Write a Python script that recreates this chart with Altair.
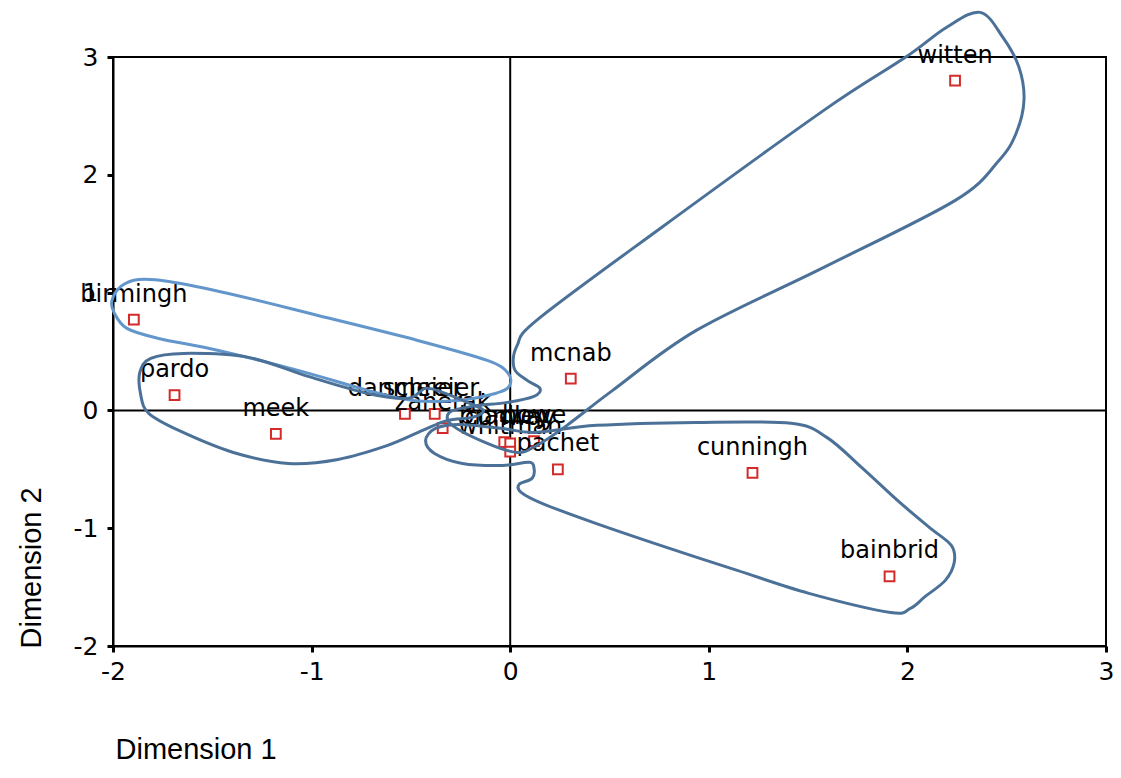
import altair as alt
import pandas as pd

# ---- point data (Dimension 1, Dimension 2) ----
names = ["birmingh", "pardo", "meek", "danmeier", "schreier,", "zanerak",
         "bradley", "conway", "howe", "whitman", "pachet", "mcnab",
         "cunningh", "bainbrid", "witten"]
dim1 = [-1.895, -1.69, -1.18, -0.53, -0.38, -0.34,
        -0.03, 0.0, 0.12, 0.0, 0.24, 0.305,
        1.22, 1.91, 2.24]
dim2 = [0.77, 0.13, -0.20, -0.03, -0.03, -0.15,
        -0.27, -0.28, -0.26, -0.35, -0.50, 0.27,
        -0.53, -1.41, 2.80]

# ---- hand-drawn cluster outlines (data units) ----
hull_a_x = [-2.005, -1.960, -1.870, -1.719, -1.419, -0.968, -0.466, -0.115, -0.010,
            -0.005, -0.075, -0.266, -0.491, -0.717, -1.068, -1.469, -1.770, -1.930, -1.995]
hull_a_y = [0.934, 1.053, 1.112, 1.095, 0.993, 0.806, 0.594, 0.424, 0.314,
            0.204, 0.144, 0.085, 0.085, 0.170, 0.340, 0.509, 0.611, 0.696, 0.832]

hull_b_x = [-1.865, -1.810, -1.644, -1.318, -1.018, -0.717, -0.516, -0.426, -0.341, -0.216,
            -0.135, -0.190, -0.316, -0.441, -0.617, -0.867, -1.118, -1.394, -1.669, -1.820, -1.860]
hull_b_y = [0.323, 0.441, 0.484, 0.450, 0.289, 0.144, 0.102, 0.187, 0.153, 0.068,
            0.0, -0.059, -0.085, -0.170, -0.297, -0.416, -0.450, -0.357, -0.170, -0.025, 0.127]

hull_c_x = [2.366, 2.481, 2.562, 2.587, 2.547, 2.461, 2.241, 1.579, 0.937, 0.516,
            0.286, 0.135, 0.035, -0.115, -0.291, -0.306, -0.190, -0.015, 0.120, 0.150,
            0.085, 0.020, 0.035, 0.145, 0.762, 1.579, 1.990, 2.196]
hull_c_y = [3.379, 3.166, 2.912, 2.632, 2.351, 2.122, 1.783, 1.214, 0.679, 0.170,
            -0.127, -0.297, -0.357, -0.280, -0.127, -0.017, 0.034, 0.068, 0.119, 0.187,
            0.255, 0.357, 0.552, 0.781, 1.553, 2.547, 2.997, 3.251]

hull_d_x = [0.125, 0.436, 0.937, 1.414, 1.594, 1.769, 1.950, 2.110, 2.221, 2.236,
            2.191, 2.090, 2.015, 1.915, 1.504, 1.143, 0.787, 0.431, 0.160, 0.055,
            0.045, 0.110, 0.120, 0.095, -0.040, -0.241, -0.381, -0.426, -0.376, -0.256, -0.040]
hull_d_y = [-0.187, -0.127, -0.102, -0.110, -0.229, -0.484, -0.764, -0.993, -1.146, -1.290,
            -1.443, -1.579, -1.681, -1.715, -1.553, -1.358, -1.163, -0.959, -0.789, -0.696,
            -0.628, -0.577, -0.492, -0.441, -0.467, -0.450, -0.365, -0.255, -0.153, -0.119, -0.153]

hull_names = ["A", "B", "C", "D"]
hull_colors = ["#6396cb", "#4c7198", "#4c7198", "#4c7198"]

tick_values = [-2, -1, 0, 1, 2, 3]

# ---- tables ----
pts = pd.DataFrame({"name": names, "d1": dim1, "d2": dim2})
rows = []
for hn, hx, hy in zip(hull_names, [hull_a_x, hull_b_x, hull_c_x, hull_d_x],
                      [hull_a_y, hull_b_y, hull_c_y, hull_d_y]):
    for i, (a, b) in enumerate(zip(hx, hy)):
        rows.append({"hull": hn, "i": i, "d1": a, "d2": b})
hulls = pd.DataFrame(rows)
zero = pd.DataFrame({"v": [0]})

FONT = "DejaVu Sans"
TFONT = "Liberation Sans"
xs = alt.Scale(domain=[-2, 3], nice=False, zero=False)
ys = alt.Scale(domain=[-2, 3], nice=False, zero=False)

xaxis = alt.Axis(values=tick_values, title="Dimension 1", grid=False,
                 labelExpr="'' + datum.value",
                 tickSize=6, tickWidth=3, tickColor="black",
                 domainColor="black", domainWidth=2,
                 labelFont=FONT, labelFontSize=25, labelColor="black",
                 labelPadding=7, labelFlush=False, labelOverlap=False,
                 titleFont=TFONT, titleFontSize=29, titleFontWeight="normal",
                 titleColor="black", titleX=2, titleY=112,
                 titleAlign="left", titleBaseline="alphabetic")
yaxis = alt.Axis(values=tick_values, title="Dimension 2", grid=False,
                 labelExpr="'' + datum.value",
                 tickSize=6, tickWidth=3, tickColor="black",
                 domainColor="black", domainWidth=2,
                 labelFont=FONT, labelFontSize=25, labelColor="black",
                 labelPadding=9, labelFlush=False, labelOverlap=False,
                 titleFont=TFONT, titleFontSize=29, titleFontWeight="normal",
                 titleColor="black", titleAngle=270, titleX=-73, titleY=591,
                 titleAlign="left", titleBaseline="alphabetic")


def X(field):
    return alt.X(field, type="quantitative", scale=xs, axis=xaxis)


def Y(field):
    return alt.Y(field, type="quantitative", scale=ys, axis=yaxis)


vrule = alt.Chart(zero).mark_rule(color="black", strokeWidth=2).encode(x=X("v"))
hrule = alt.Chart(zero).mark_rule(color="black", strokeWidth=2).encode(y=Y("v"))

points = alt.Chart(pts).mark_point(
    shape="square", filled=True, fill="white", stroke="#d42a2a",
    strokeWidth=2, size=95, opacity=1
).encode(x=X("d1"), y=Y("d2"))

labels = alt.Chart(pts).mark_text(
    align="center", baseline="alphabetic", dy=-18, fontSize=24,
    font=FONT, color="black"
).encode(x=X("d1"), y=Y("d2"), text="name:N")

outlines = alt.Chart(hulls).mark_line(
    interpolate="cardinal-closed", strokeWidth=3
).encode(
    x=X("d1"), y=Y("d2"), order="i:Q", detail="hull:N",
    color=alt.Color("hull:N", scale=alt.Scale(domain=hull_names, range=hull_colors),
                    legend=None)
)

chart = alt.layer(vrule, hrule, points, labels, outlines).properties(
    width=993, height=589,
    autosize=alt.AutoSizeParams(type="none"),
    padding={"left": 105, "top": 49, "right": 7, "bottom": 119},
    background="white"
).configure_view(stroke="black", strokeWidth=2)

chart.save("out.html", embed_options={"renderer": "svg", "actions": False})
